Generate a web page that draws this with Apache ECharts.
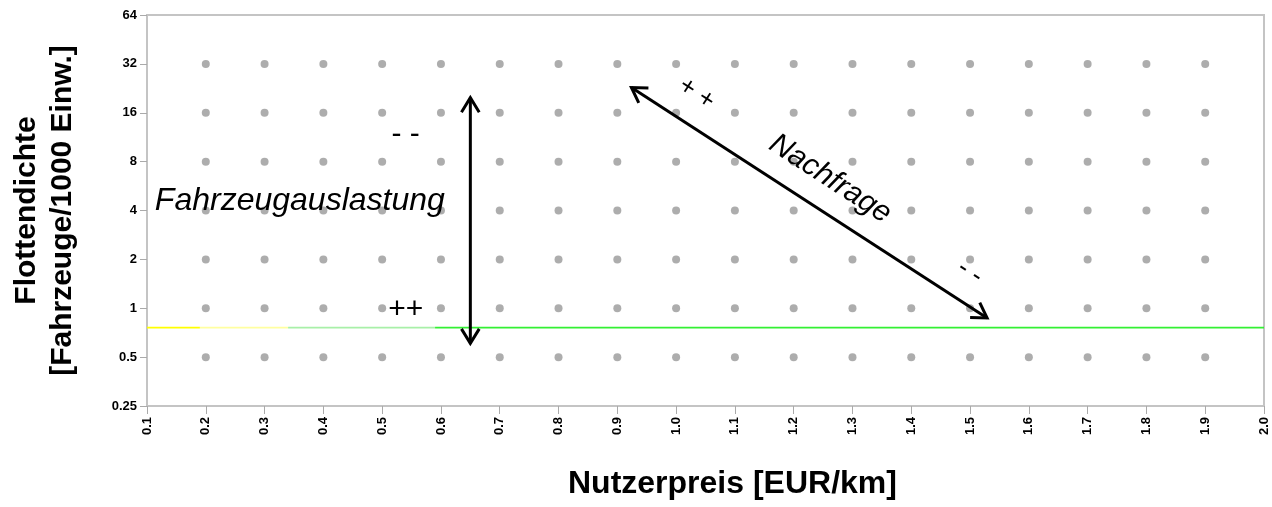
<!DOCTYPE html>
<html>
<head>
<meta charset="utf-8">
<script src="https://cdn.jsdelivr.net/npm/echarts@6/dist/echarts.min.js"></script>
<style>
  html, body { margin: 0; padding: 0; background: #fff; }
  #chart { width: 1272px; height: 507px; }
</style>
</head>
<body>
<div id="chart"></div>
<script>
// grid of reference points
var priceTicks = [0.2, 0.3, 0.4, 0.5, 0.6, 0.7, 0.8, 0.9, 1.0, 1.1, 1.2, 1.3, 1.4, 1.5, 1.6, 1.7, 1.8, 1.9];
var densityLevels = [0.5, 1, 2, 4, 8, 16, 32];

// threshold line, split in coloured pieces
var thresholdValue = 0.76;
var segStart = [0.1, 0.19, 0.34, 0.59];
var segEnd = [0.19, 0.34, 0.59, 2.0];
var segColor = ['#ffff00', '#ffffa0', '#a8f0a8', '#33f033'];

// arrows: [x0, y0, x1, y1]
var arrowFrom = [[0.65, 19.8], [0.924, 22.9]];
var arrowTo = [[0.65, 0.608], [1.529, 0.871]];

// text annotations
var noteText = ['Fahrzeugauslastung', '- -', '++', '+ +', 'Nachfrage', '- -'];
var noteX = [0.36, 0.54, 0.54, 1.035, 1.262, 1.50];
var noteY = [4.58, 11.7, 0.98, 20.96, 6.26, 1.67];
var noteAngle = [0, 0, 0, -33, -33, -33];
var noteSize = [32, 30, 30, 26, 30, 26];
var noteItalic = [true, false, false, false, true, false];

var chart = echarts.init(document.getElementById('chart'));

var dots = [];
priceTicks.forEach(x => {
    densityLevels.forEach(y => {
        dots.push([x, y]);
    });
});

var segSeries = segStart.map((s, i) => ({
    type: 'line',
    data: [[s, thresholdValue], [segEnd[i], thresholdValue]],
    symbol: 'none',
    silent: true,
    lineStyle: { color: segColor[i], width: 1.6 },
    z: 3
}));

function chevron(tip, ang) {
    var len = 17, spread = 0.55;
    return [
        [tip[0] - len * Math.cos(ang - spread), tip[1] - len * Math.sin(ang - spread)],
        tip,
        [tip[0] - len * Math.cos(ang + spread), tip[1] - len * Math.sin(ang + spread)]
    ];
}

var option = {
    animation: false,
    grid: {
        left: 147, right: 8, top: 15, bottom: 101,
        show: true, borderColor: '#c4c4c4', borderWidth: 2
    },
    xAxis: {
        type: 'value',
        min: 0.1, max: 2.0, interval: 0.1,
        axisLine: { lineStyle: { color: '#c4c4c4', width: 2 } },
        axisTick: { length: 8, lineStyle: { color: '#aaa' } },
        splitLine: { show: false },
        axisLabel: {
            rotate: 90, margin: 11,
            color: '#000', fontWeight: 'bold', fontSize: 13,
            fontFamily: 'Liberation Sans, Arial',
            formatter: v => v.toFixed(1)
        }
    },
    yAxis: {
        type: 'log', logBase: 2,
        min: 0.25, max: 64, splitNumber: 8,
        axisLine: { show: true, lineStyle: { color: '#c4c4c4', width: 2 } },
        axisTick: { show: true, length: 7, lineStyle: { color: '#aaa' } },
        splitLine: { show: false },
        axisLabel: {
            margin: 10,
            color: '#000', fontWeight: 'bold', fontSize: 13,
            fontFamily: 'Liberation Sans, Arial',
            formatter: v => String(+(+v).toPrecision(6))
        },
        name: 'Flottendichte\n[Fahrzeuge/1000 Einw.]',
        nameLocation: 'middle', nameRotate: 90, nameGap: 66,
        nameTextStyle: {
            color: '#000', fontWeight: 'bold', fontSize: 30, lineHeight: 36,
            fontFamily: 'Liberation Sans, Arial'
        }
    },
    graphic: [{
        type: 'text', left: 568, top: 468,
        style: {
            text: 'Nutzerpreis [EUR/km]', fill: '#000',
            font: 'bold 32px "Liberation Sans", Arial'
        }
    }],
    series: [{
        type: 'scatter',
        data: dots,
        symbolSize: 8,
        itemStyle: { color: '#999' },
        silent: true,
        z: 2
    }].concat(segSeries).concat([{
        type: 'custom',
        data: arrowFrom.map((a, i) => [a[0], a[1], arrowTo[i][0], arrowTo[i][1]]),
        encode: { x: [0, 2], y: [1, 3] },
        silent: true,
        z: 5,
        renderItem: function(params, api) {
            var p0 = api.coord([api.value(0), api.value(1)]);
            var p1 = api.coord([api.value(2), api.value(3)]);
            var ang = Math.atan2(p1[1] - p0[1], p1[0] - p0[0]);
            var st = { stroke: '#000', lineWidth: 3, fill: null };
            return {
                type: 'group',
                children: [
                    { type: 'line', shape: { x1: p0[0], y1: p0[1], x2: p1[0], y2: p1[1] }, style: st },
                    { type: 'polyline', shape: { points: chevron(p1, ang) }, style: st },
                    { type: 'polyline', shape: { points: chevron(p0, ang + Math.PI) }, style: st }
                ]
            };
        }
    }, {
        type: 'custom',
        data: noteX.map((x, i) => [x, noteY[i]]),
        silent: true,
        z: 6,
        renderItem: function(params, api) {
            var i = params.dataIndex;
            var p = api.coord([api.value(0), api.value(1)]);
            return {
                type: 'text',
                x: p[0], y: p[1],
                rotation: noteAngle[i] * Math.PI / 180,
                style: {
                    text: noteText[i],
                    fill: '#000',
                    align: 'center', verticalAlign: 'middle',
                    font: (noteItalic[i] ? 'italic ' : '') + noteSize[i] + 'px "Liberation Sans", Arial'
                }
            };
        }
    }])
};

chart.setOption(option);
</script>
</body>
</html>
